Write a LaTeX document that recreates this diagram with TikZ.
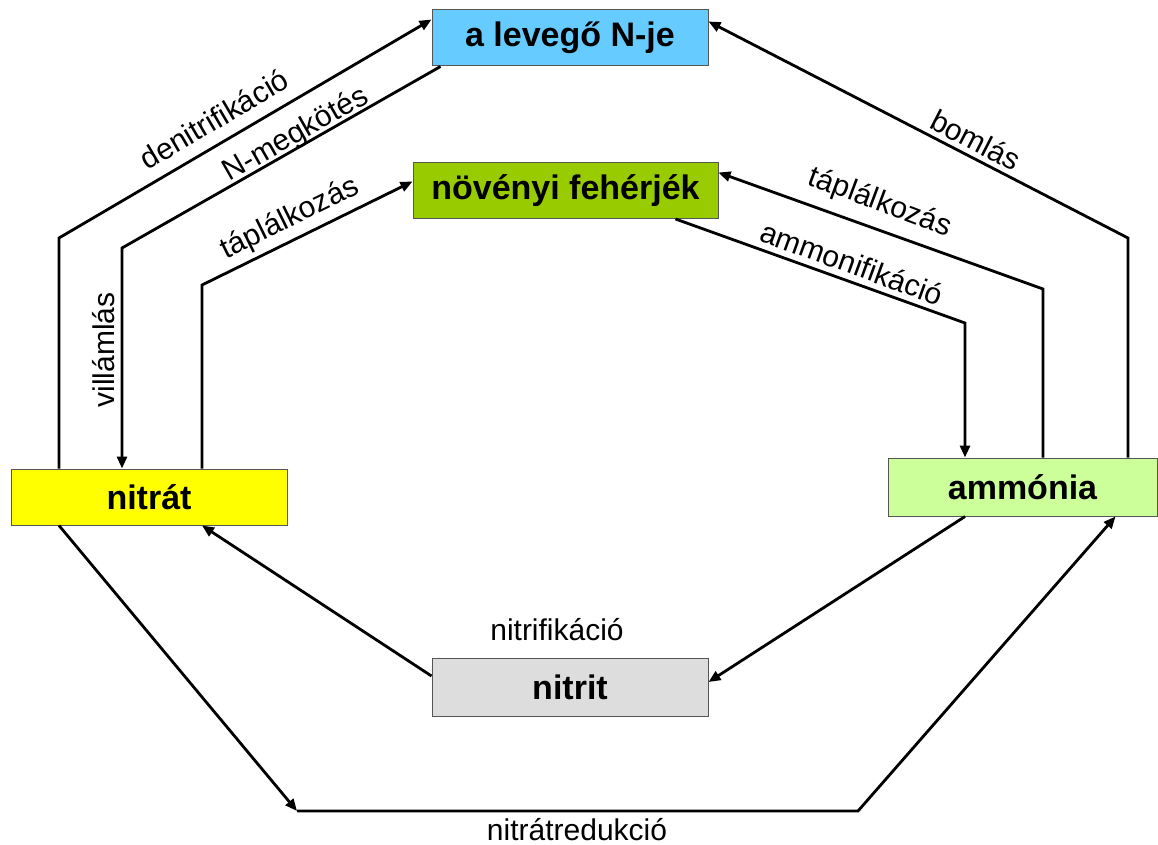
\documentclass[tikz,border=0pt]{standalone}
\usepackage{fontspec}
\setmainfont{Liberation Sans}
\usetikzlibrary{arrows.meta,calc}
\definecolor{cLev}{HTML}{66CCFF}
\definecolor{cNov}{HTML}{99CC00}
\definecolor{cNitrat}{HTML}{FFFF00}
\definecolor{cAmm}{HTML}{CCFF99}
\definecolor{cNitrit}{HTML}{DDDDDD}
\definecolor{cBorder}{HTML}{555555}
\tikzset{
  boxnode/.style={draw=cBorder, line width=1pt, minimum width=276pt, minimum height=56pt, inner sep=0pt,
    font=\fontsize{34}{38}\selectfont\bfseries},
  arr/.style={line width=2.8pt, -{Triangle[length=12pt,width=10pt]}, line join=miter},
  lbl/.style={font=\fontsize{30}{33}\selectfont, inner sep=0pt}
}
\begin{document}
\begin{tikzpicture}[x=1pt,y=-1pt]
\useasboundingbox (0,0) rectangle (1158,845);
% boxes
\node[boxnode, fill=cLev] (lev) at (570,38) {a levegő N-je};
\node[boxnode, fill=cNov, minimum width=305pt] (nov) at (565.5,190.5) {növényi fehérjék};
\node[boxnode, fill=cNitrat] (nitrat) at (149,497) {nitrát};
\node[boxnode, fill=cAmm, minimum width=269pt, minimum height=58pt] (amm) at (1022.5,487) {ammónia};
\node[boxnode, fill=cNitrit, minimum height=58pt] (nitrit) at (570,687) {nitrit};
% corner points
\coordinate (d1) at (59,238);
\coordinate (d2) at (122,248);
\coordinate (d3) at (202,285);
\coordinate (d4) at (965,323);
\coordinate (d5) at (1043,289);
\coordinate (d6) at (1128,238);
\coordinate (r1) at (297,811);
\coordinate (r2) at (858,811);
% connectors
\draw[arr] (nitrat.north -| d1) -- (d1) -- ($(lev.north west)+(0,10)$);
\draw[arr] ($(lev.south west)+(9,0)$) -- (d2) -- (nitrat.north -| d2);
\draw[arr] (nitrat.north -| d3) -- (d3) -- ($(nov.west)+(0,-9)$);
\draw[arr] ($(nov.south east)+(-43,0)$) -- (d4) -- (amm.north -| d4);
\draw[arr] (amm.north -| d5) -- (d5) -- ($(nov.east)+(0,-18)$);
\draw[arr] (amm.north -| d6) -- (d6) -- ($(lev.north east)+(0,12)$);
\draw[arr] ($(nitrit.west)+(0,-11)$) -- (nitrat.south -| d3);
\draw[arr] (amm.south -| d4) -- ($(nitrit.east)+(0,-5)$);
\draw[arr] (nitrat.south -| d1) -- (r1);
\draw[arr] (r1) -- (r2) -- ($(amm.south east)+(-42,0)$);
% labels
\node[lbl, rotate=30.5] (l1) at (214,119) {denitrifikáció};
\node[lbl, rotate=29.7] (l2) at (296,135) {N-megkötés};
\node[lbl, rotate=90] (l3) at (104,350) {villámlás};
\node[lbl, rotate=26.2] (l4) at (290,219) {táplálkozás};
\node[lbl, rotate=-27.3] (l5) at (976,140) {bomlás};
\node[lbl, rotate=-20.5] (l6) at (880,203) {táplálkozás};
\node[lbl, rotate=-20] (l7) at (852,263) {ammonifikáció};
\node[lbl] (l8) at (557,630) {nitrifikáció};
\node[lbl] (l9) at (577,830) {nitrátredukció};
\end{tikzpicture}
\end{document}
